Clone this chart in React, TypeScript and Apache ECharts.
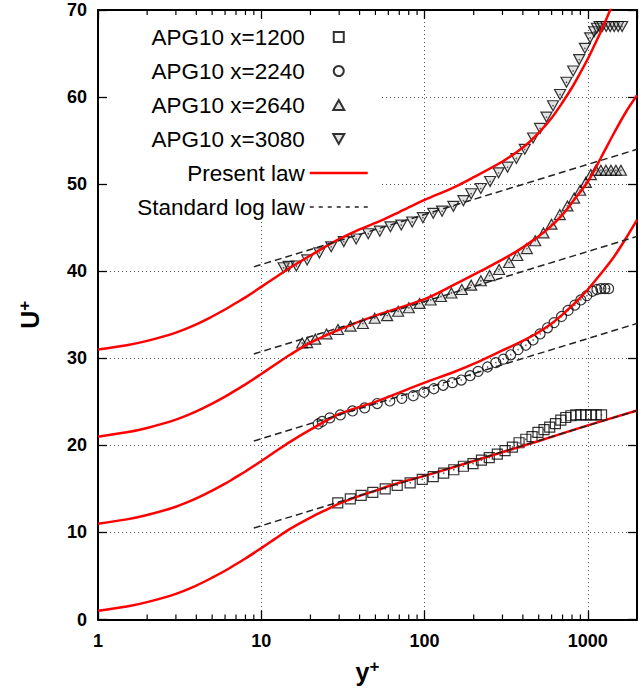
import React, { useEffect, useRef } from 'react';
import * as echarts from 'echarts';

const FONT = '"Liberation Sans", Arial, Helvetica, sans-serif';

// tick labels
const xTickLabels = ['1', '10', '100', '1000'];
const yTickLabels = ['0', '10', '20', '30', '40', '50', '60', '70'];
const xMinorTicks = [2, 3, 4, 5, 6, 7, 8, 9, 20, 30, 40, 50, 60, 70, 80, 90, 200, 300, 400, 500, 600, 700, 800, 900];

// measured profiles [y+, U+]
const apg1200: number[][] = [
  [29.4, 13.4], [35.1, 13.85], [40.9, 14.25], [48.2, 14.6], [57.4, 15.0], [68, 15.4], [81.6, 15.7], [96.8, 16.1],
  [113, 16.4], [131, 16.8], [151, 17.2], [173, 17.6], [198, 17.9], [223, 18.3], [249, 18.6], [279, 19.0],
  [311, 19.4], [345, 19.8], [379, 20.3], [417, 20.7], [455, 21.0], [495, 21.5], [539, 21.8], [584, 22.1],
  [633, 22.5], [683, 22.9], [733, 23.2], [787, 23.4], [844, 23.5], [906, 23.5], [972, 23.5], [1043, 23.5],
  [1125, 23.5], [1213, 23.5],
];
const apg2240: number[][] = [
  [22.3, 22.45], [23.6, 22.75], [26.3, 23.15], [30.5, 23.5], [36.2, 23.95], [43, 24.3], [51.3, 24.8], [61.3, 25.1],
  [72.6, 25.4], [85.3, 25.7], [99, 26.1], [114, 26.5], [130, 26.9], [148, 27.2], [168, 27.5], [190, 28.0],
  [213, 28.5], [243, 29.0], [273, 29.5], [304, 29.9], [337, 30.4], [374, 31.0], [417, 31.5], [462, 32.1],
  [510, 32.8], [566, 33.5], [621, 34.1], [690, 34.8], [757, 35.5], [832, 36.1], [906, 36.7], [986, 37.2],
  [1069, 37.7], [1136, 37.9], [1202, 38.0], [1271, 38.0], [1340, 38.0],
];
const apg2640: number[][] = [
  [17.8, 31.75], [19.1, 31.8], [21.4, 32.2], [25.1, 32.8], [29.5, 33.3], [35.2, 33.7], [41.9, 34.0], [49.5, 34.6],
  [59, 34.9], [68.9, 35.4], [80.1, 35.8], [93.2, 36.3], [109, 36.7], [126, 37.1], [146, 37.5], [169, 37.9],
  [193, 38.4], [221, 38.9], [250, 39.5], [286, 40.2], [329, 41.0], [370, 41.8], [423, 42.6], [476, 43.5],
  [535, 44.4], [599, 45.4], [673, 46.5], [750, 47.5], [824, 48.4], [897, 49.3], [972, 50.2], [1043, 51.1],
  [1120, 51.6], [1202, 51.6], [1290, 51.6], [1385, 51.6], [1485, 51.6], [1594, 51.6],
];
const apg3080: number[][] = [
  [13.7, 40.4], [14.7, 40.55], [16.4, 40.6], [19.1, 41.3], [22.7, 42.1], [26.8, 42.8], [32, 43.4], [38.1, 43.7],
  [45.2, 44.3], [53.2, 44.6], [61.8, 45.1], [72, 45.3], [84, 45.65], [97.7, 46.15], [113, 46.65], [128, 46.9],
  [150, 47.45], [173, 48.1], [193, 48.9], [221, 49.5], [252, 50.3], [284, 51.3], [322, 51.95], [365, 52.95],
  [411, 54.0], [462, 55.3], [510, 56.4], [558, 57.7], [612, 59.0], [676, 60.3], [740, 61.7], [813, 63.0],
  [885, 64.3], [959, 65.6], [1033, 66.8], [1094, 67.5], [1136, 67.9], [1180, 68.1], [1225, 68.1], [1295, 68.1],
  [1370, 68.1], [1450, 68.1], [1534, 68.1], [1622, 68.1],
];

// present law curves
const present0: number[][] = [
  [1, 1.0], [1.5, 1.5], [2, 2.0], [3, 2.95], [4, 3.9], [5, 4.8], [6, 5.6], [7, 6.35], [8, 7.0], [10, 8.2],
  [12, 9.2], [15, 10.4], [20, 11.7], [25, 12.6], [30, 13.3], [40, 14.2], [50, 14.8], [70, 15.7], [100, 16.5],
  [200, 18.2], [500, 20.5], [1000, 22.3], [2000, 24.0],
];
const present1: number[][] = [
  [1, 11.0], [1.5, 11.5], [2, 12.0], [3, 12.95], [4, 13.9], [5, 14.8], [6, 15.6], [7, 16.35], [8, 17.0], [10, 18.2],
  [12, 19.2], [15, 20.4], [20, 21.8], [30, 23.6], [50, 25.0], [100, 27.2], [150, 28.4], [220, 29.7], [300, 30.9],
  [450, 32.5], [600, 34.0], [716, 35.2], [850, 36.5], [1000, 37.9], [1200, 39.7], [1450, 41.7], [1700, 43.7], [2000, 45.9],
];
const present2: number[][] = [
  [1, 21.0], [1.5, 21.5], [2, 22.0], [3, 22.95], [4, 23.9], [5, 24.8], [6, 25.6], [7, 26.35], [8, 27.0], [10, 28.2],
  [12, 29.2], [15, 30.4], [20, 31.8], [30, 33.3], [50, 34.9], [100, 36.8], [150, 38.4], [220, 40.0], [353, 42.1],
  [450, 43.4], [566, 44.8], [700, 46.5], [824, 48.2], [1000, 50.3], [1200, 53.0], [1450, 55.9], [1700, 58.2], [2000, 60.2],
];
const present3: number[][] = [
  [1, 31.0], [1.5, 31.5], [2, 32.0], [3, 32.95], [4, 33.9], [5, 34.8], [6, 35.6], [7, 36.35], [8, 37.0], [10, 38.2],
  [12, 39.2], [15, 40.4], [20, 41.8], [28, 43.4], [40, 44.8], [54, 45.8], [70, 46.8], [100, 48.2], [150, 49.6],
  [200, 50.8], [300, 52.6], [400, 54.2], [500, 55.9], [600, 57.6], [700, 59.4], [800, 61.1], [900, 62.8],
  [1000, 64.4], [1100, 66.0], [1200, 67.5], [1300, 69.0], [1400, 70.4],
];

// standard log law lines
const logLaw0: number[][] = [[9, 10.5], [2000, 24.0]];
const logLaw1: number[][] = [[9, 20.5], [2000, 34.0]];
const logLaw2: number[][] = [[9, 30.5], [2000, 44.0]];
const logLaw3: number[][] = [[9, 40.5], [2000, 54.0]];

const markerSeries = [
  { name: 'APG10 x=1200', data: apg1200, symbol: 'rect', size: 10, rotate: 0, fill: 'rgba(255,255,255,0)' },
  { name: 'APG10 x=2240', data: apg2240, symbol: 'circle', size: 10, rotate: 0, fill: 'rgba(255,255,255,0)' },
  { name: 'APG10 x=2640', data: apg2640, symbol: 'triangle', size: [11, 10], rotate: 0, fill: 'rgba(140,140,140,0.3)' },
  { name: 'APG10 x=3080', data: apg3080, symbol: 'triangle', size: [11, 10], rotate: 180, fill: 'rgba(140,140,140,0.3)' },
];
const presentCurves = [present0, present1, present2, present3];
const logLawLines = [logLaw0, logLaw1, logLaw2, logLaw3];

function buildOption(): any {
  const axisLine = { show: true, onZero: false, lineStyle: { color: '#000', width: 2 } };
  const tick = { show: true, inside: true, length: 9, lineStyle: { color: '#000', width: 1.3 } };
  const gridLine = { show: true, showMinLine: false, showMaxLine: false, lineStyle: { color: '#555', type: [1, 3], width: 1 } };
  const nameRich = {
    t: { fontSize: 25, fontWeight: 'bold', fontFamily: FONT, color: '#000', lineHeight: 28 },
    p: { fontSize: 17, fontWeight: 'bold', fontFamily: FONT, color: '#000', lineHeight: 8, verticalAlign: 'top' },
  };
  const series: any[] = [];
  markerSeries.forEach((m) => {
    series.push({
      type: 'scatter', name: m.name, data: m.data, symbol: m.symbol, symbolSize: m.size, symbolRotate: m.rotate,
      itemStyle: { color: m.fill, borderColor: '#000', borderWidth: 1.2 }, emphasis: { disabled: true }, z: 2,
    });
    series.push({
      type: 'scatter', name: m.name + ' centre', data: m.data, symbol: 'circle', symbolSize: 1.6,
      itemStyle: { color: '#333' }, silent: true, emphasis: { disabled: true }, z: 2,
    });
  });
  presentCurves.forEach((c) => {
    series.push({
      type: 'line', name: 'Present law', data: c, symbol: 'none', smooth: 0.3,
      lineStyle: { color: '#ff0000', width: 2.5 }, itemStyle: { color: '#ff0000' }, emphasis: { disabled: true }, z: 3,
    });
  });
  logLawLines.forEach((c) => {
    series.push({
      type: 'line', name: 'Standard log law', data: c, symbol: 'none',
      lineStyle: { color: '#222', width: 1.5, type: [7, 4] }, itemStyle: { color: '#222' }, emphasis: { disabled: true }, z: 4,
    });
  });
  series.push({
    type: 'custom', name: 'minor ticks', data: xMinorTicks.map((v) => [v, 0]), silent: true, clip: false, z: 5,
    renderItem: (params: any, api: any) => {
      const p = api.coord([api.value(0), 0]);
      const cs = params.coordSys;
      const bottom = cs.y + cs.height;
      return {
        type: 'group',
        children: [
          { type: 'line', shape: { x1: p[0], y1: bottom, x2: p[0], y2: bottom - 5 }, style: { stroke: '#000', lineWidth: 1.2 } },
          { type: 'line', shape: { x1: p[0], y1: cs.y, x2: p[0], y2: cs.y + 5 }, style: { stroke: '#000', lineWidth: 1.2 } },
        ],
      };
    },
  });

  const hiddenDot = { color: 'rgba(0,0,0,0)', borderWidth: 0 };

  return {
    animation: false,
    backgroundColor: '#fff',
    grid: { left: 98, top: 10, right: 7, bottom: 69, show: false },
    legend: {
      orient: 'vertical', align: 'right', right: 275, top: 25.5, padding: 0, itemGap: 11,
      itemWidth: 58, itemHeight: 10, selectedMode: false,
      textStyle: { fontSize: 22.5, fontWeight: 'normal', color: '#000', fontFamily: FONT },
      data: [
        { name: 'APG10 x=1200', icon: 'path://M0,0H10V10H0Z' },
        { name: 'APG10 x=2240', icon: 'circle' },
        { name: 'APG10 x=2640', icon: 'path://M5,0L10,9L0,9Z' },
        { name: 'APG10 x=3080', icon: 'path://M0,0L10,0L5,9Z' },
        { name: 'Present law', lineStyle: { color: '#ff0000', width: 2.5 }, itemStyle: hiddenDot },
        { name: 'Standard log law', lineStyle: { color: '#222', width: 1.5, type: [4, 5] }, itemStyle: hiddenDot },
      ],
    },
    graphic: [
      { type: 'rect', shape: { x: 108, y: 20, width: 272, height: 193 }, style: { fill: '#fff' }, z: 1, silent: true },
    ],
    xAxis: [
      {
        type: 'log', logBase: 10, min: 1, max: 2000, position: 'bottom',
        axisLine, axisTick: tick, splitLine: gridLine, minorTick: { show: false },
        axisLabel: {
          margin: 12, color: '#000', fontSize: 18, fontWeight: 'bold', fontFamily: FONT, showMaxLabel: false,
          formatter: (v: number) => { const s = String(Math.round(v)); return xTickLabels.includes(s) ? s : ''; },
        },
        name: '{t|y}{p|+}', nameLocation: 'middle', nameGap: 38, nameTextStyle: { rich: nameRich },
      },
      {
        type: 'log', logBase: 10, min: 1, max: 2000, position: 'top',
        axisLine, axisTick: tick, splitLine: { show: false }, axisLabel: { show: false },
      },
    ],
    yAxis: [
      {
        type: 'value', min: 0, max: 70, interval: 10, position: 'left',
        axisLine, axisTick: tick, splitLine: gridLine,
        axisLabel: {
          margin: 11, color: '#000', fontSize: 18, fontWeight: 'bold', fontFamily: FONT,
          formatter: (v: number) => { const s = String(v); return yTickLabels.includes(s) ? s : ''; },
        },
        name: '{t|U}{p|+}', nameLocation: 'middle', nameRotate: 90, nameGap: 54, nameTextStyle: { rich: nameRich },
      },
      {
        type: 'value', min: 0, max: 70, interval: 10, position: 'right',
        axisLine, axisTick: tick, splitLine: { show: false }, axisLabel: { show: false },
      },
    ],
    series,
  };
}

export default function App() {
  const ref = useRef<HTMLDivElement>(null);
  useEffect(() => {
    document.body.style.margin = '0';
    const chart = echarts.init(ref.current as HTMLDivElement, null, { renderer: 'svg' });
    chart.setOption(buildOption());
    return () => chart.dispose();
  }, []);
  return <div ref={ref} style={{ width: 644, height: 689 }} />;
}
